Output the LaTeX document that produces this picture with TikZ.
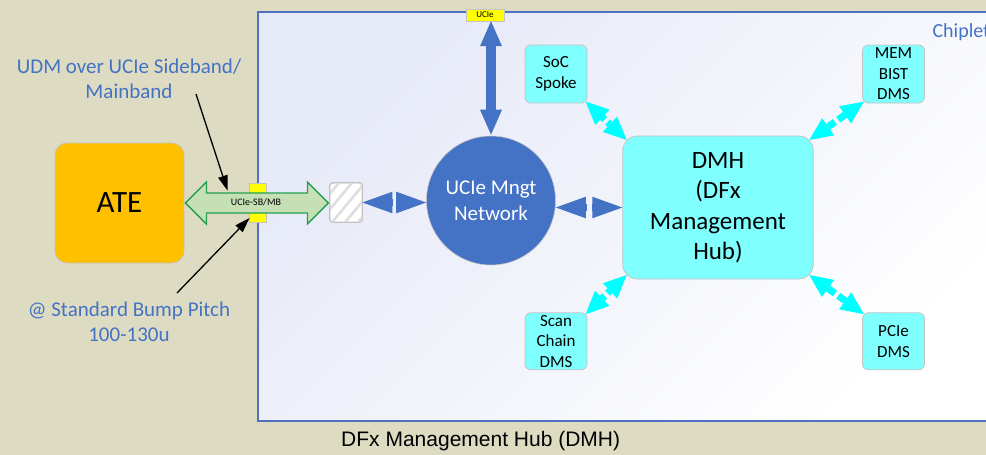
\documentclass[tikz,border=0pt]{standalone}
\usepackage{fontspec}
\setmainfont{Carlito}
\newfontfamily\arialfont{Liberation Sans}
\usetikzlibrary{arrows.meta,calc}

\definecolor{bgolive}{RGB}{221,220,195}
\definecolor{chipfill}{RGB}{230,233,247}
\definecolor{chipline}{RGB}{79,114,192}
\definecolor{txtblue}{RGB}{68,114,196}
\definecolor{netblue}{RGB}{68,114,196}
\definecolor{ateorange}{RGB}{255,192,0}
\definecolor{spokecyan}{RGB}{128,255,255}
\definecolor{boxline}{RGB}{195,195,195}
\definecolor{linkcyan}{RGB}{0,255,255}
\definecolor{sbfill}{RGB}{197,224,180}
\definecolor{sbline}{RGB}{34,160,80}
\definecolor{padyellow}{RGB}{255,255,0}

% two block-arrow halves pointing outwards, with a small break in the middle
\newcommand{\gaplink}[4]{%
  \coordinate (gl-m) at ($(#2)!0.5!(#3)$);
  \draw[#1] ($(gl-m)!#4!(#2)$) -- (#2);
  \draw[#1] ($(gl-m)!#4!(#3)$) -- (#3);
}

\tikzset{
  spokebox/.style={draw=boxline, fill=spokecyan, rounded corners=6pt, line width=0.8pt,
    minimum width=62pt, minimum height=58pt, inner sep=0pt, align=center,
    font=\fontsize{17}{20.5}\selectfont},
  bluelink/.style={draw=netblue, line width=7.7pt,
    -{Triangle[length=30pt,width=21.6pt,line width=0pt]}},
  cyanlink/.style={draw=linkcyan, line width=7pt,
    -{Triangle[length=23pt,width=21pt,line width=0pt]}},
  annot/.style={draw=black, line width=1.3pt,
    -{Triangle[length=15pt,width=10pt,line width=0pt]}},
  bluenote/.style={text=txtblue, align=center, font=\fontsize{21}{25}\selectfont},
}

\begin{document}
\begin{tikzpicture}[x=1pt,y=-1pt]
\clip (0,0) rectangle (986,455);
\fill[bgolive] (0,0) rectangle (986,455);

% chiplet area
\shade[top color=chipfill, bottom color=white, shading angle=45] (258,12) rectangle (1000,421);
\draw[chipline, line width=1.2pt] (258,12) rectangle (1000,421);
\node[anchor=west, text=txtblue, font=\fontsize{20}{24}\selectfont] (chiplbl) at (929,32) {Chiplet};

% ATE
\node[draw=boxline, fill=ateorange, rounded corners=12pt, line width=0.8pt,
  minimum width=129pt, minimum height=120pt, inner sep=0pt,
  font=\fontsize{31}{36}\selectfont] (ate) at (119.5,203) {ATE};

% sideband/mainband pad at the chiplet edge
\node[draw=boxline, fill=padyellow, minimum width=17pt, minimum height=39pt, inner sep=0pt] (pad) at (257.5,202.5) {};

% hatched port
\node[draw=boxline, fill=white, rounded corners=3pt, line width=0.8pt,
  minimum width=32pt, minimum height=39pt, inner sep=0pt] (port) at (346,202.5) {};
\begin{scope}
  \clip[rounded corners=3pt] (port.north west) rectangle (port.south east);
  \foreach \s in {-40,-27,-14,-1,12,25}
    \draw[black!13, line width=2.6pt] ($(port.south west)+(\s,4)$) -- ++(40,-48);
\end{scope}
\draw[boxline, rounded corners=3pt, line width=0.8pt] (port.north west) rectangle (port.south east);

% UCIe-SB/MB link between ATE and port
\draw[draw=sbline, fill=sbfill, line width=1.3pt, line join=miter]
  ($(ate.east)+(1,0)$) -- ++(21,-21) -- ++(0,11) -- ++(101,0) -- ++(0,-11) -- ++(21,21)
  -- ++(-21,21) -- ++(0,-11) -- ++(-101,0) -- ++(0,11) -- cycle;
\node[font=\fontsize{10}{12}\selectfont] (sblbl) at (256,202.5) {UCIe-SB/MB};

% management network
\node[circle, draw=boxline, line width=0.6pt, fill=netblue, minimum size=129pt, inner sep=0pt] (net) at (491,200.5) {};
\node[text=white, align=center, font=\fontsize{21}{26}\selectfont] (netlbl) at (491,201) {UCIe Mngt\\Network};

% UCIe pad on top edge
\node[draw=boxline, fill=padyellow, minimum width=38pt, minimum height=12pt, inner sep=0pt,
  font=\fontsize{9}{10}\selectfont] (ucie) at (485,15) {UCIe};

% DMH
\node[draw=boxline, fill=spokecyan, rounded corners=15pt, line width=0.8pt,
  minimum width=190.6pt, minimum height=143pt, inner sep=0pt, align=center,
  font=\fontsize{25}{30.5}\selectfont] (dmh) at (718,207.5) {DMH\\(DFx\\Management\\Hub)};

% spokes
\node[spokebox] (soc) at (556,74) {SoC\\Spoke};
\node[spokebox] (mem) at (893.5,74) {MEM\\BIST\\DMS};
\node[spokebox, minimum height=57pt] (scan) at (556,341.3) {Scan\\Chain\\DMS};
\node[spokebox, minimum height=57pt] (pcie) at (893.5,341.3) {PCIe\\DMS};

% blue links
\coordinate (portR) at (port.east);
\coordinate (netL) at (net.west |- port.east);
\gaplink{bluelink}{portR}{netL}{2.5pt}
\coordinate (netR) at (net.east |- dmh.west);
\coordinate (dmhL) at (dmh.west);
\gaplink{bluelink}{netR}{dmhL}{2.5pt}
\coordinate (netT) at ($(net.north)+(0,-1)$);
\coordinate (ucieB) at (net.north |- ucie.south);
\draw[draw=netblue, line width=10pt,
  {Triangle[length=25pt,width=22pt,line width=0pt]}-{Triangle[length=25pt,width=22pt,line width=0pt]}]
  (netT) -- (ucieB);

% cyan links between DMH and spokes
\coordinate (socC) at ($(soc.south east)+(-1.8,-1.8)$);
\coordinate (dmhNW) at ($(dmh.north west)+(4.4,4.4)$);
\gaplink{cyanlink}{socC}{dmhNW}{2pt}
\coordinate (memC) at ($(mem.south west)+(1.8,-1.8)$);
\coordinate (dmhNE) at ($(dmh.north east)+(-4.4,4.4)$);
\gaplink{cyanlink}{memC}{dmhNE}{2pt}
\coordinate (scanC) at ($(scan.north east)+(-1.8,1.8)$);
\coordinate (dmhSW) at ($(dmh.south west)+(4.4,-4.4)$);
\gaplink{cyanlink}{scanC}{dmhSW}{2pt}
\coordinate (pcieC) at ($(pcie.north west)+(1.8,1.8)$);
\coordinate (dmhSE) at ($(dmh.south east)+(-4.4,-4.4)$);
\gaplink{cyanlink}{pcieC}{dmhSE}{2pt}

% annotations
\node[bluenote] (udm) at (129,79.2) {UDM over UCIe Sideband/\\Mainband};
\node[bluenote] (bump) at (129,321.8) {@ Standard Bump Pitch\\100-130u};
\coordinate (udmfoot) at (196,94);
\coordinate (udmtip) at (227.5,190.5);
\draw[annot] (udmfoot) -- (udmtip);
\coordinate (bumpfoot) at (177,293);
\coordinate (bumptip) at (249.5,218);
\draw[annot] (bumpfoot) -- (bumptip);

% caption
\node[font=\arialfont\fontsize{21}{25}\selectfont] (caption) at (480.7,441.5) {DFx Management Hub (DMH)};
\end{tikzpicture}
\end{document}
